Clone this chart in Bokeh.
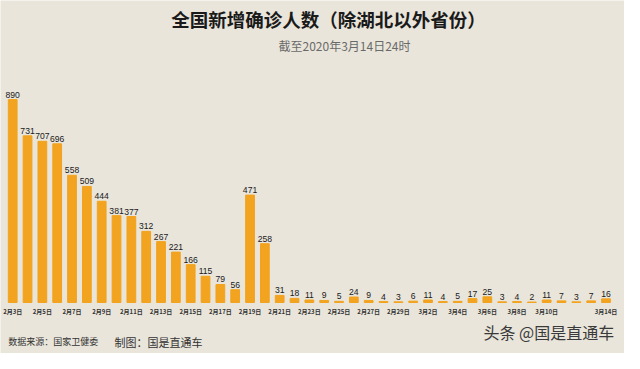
from bokeh.plotting import figure
from bokeh.models import ColumnDataSource, Label, Range1d
from bokeh.core.properties import value
from bokeh.embed import file_html
from bokeh.resources import INLINE

# ---- data ----
dates = ["2月3日", "2月4日", "2月5日", "2月6日", "2月7日", "2月8日", "2月9日", "2月10日",
         "2月11日", "2月12日", "2月13日", "2月14日", "2月15日", "2月16日", "2月17日", "2月18日",
         "2月19日", "2月20日", "2月21日", "2月22日", "2月23日", "2月24日", "2月25日", "2月26日",
         "2月27日", "2月28日", "2月29日", "3月1日", "3月2日", "3月3日", "3月4日", "3月5日",
         "3月6日", "3月7日", "3月8日", "3月9日", "3月10日", "3月11日", "3月12日", "3月13日",
         "3月14日"]
cases = [890, 731, 707, 696, 558, 509, 444, 381, 377, 312, 267, 221, 166, 115, 79, 56,
         471, 258, 31, 18, 11, 9, 5, 24, 9, 4, 3, 6, 11, 4, 5, 17,
         25, 3, 4, 2, 11, 7, 3, 7, 16]
tick_labels = ["2月3日", "2月5日", "2月7日", "2月9日", "2月11日", "2月13日", "2月15日",
               "2月17日", "2月19日", "2月21日", "2月23日", "2月25日", "2月27日", "2月29日",
               "3月2日", "3月4日", "3月6日", "3月8日", "3月10日", "3月14日"]

title_text = "全国新增确诊人数（除湖北以外省份）"
subtitle_text = "截至2020年3月14日24时"
source_text = "数据来源：国家卫健委"
maker_text = "制图：国是直通车"
brand_text = "头条 @国是直通车"

# ---- layout ----
W, H = 624, 353
BG = "#E9E5DA"
BAR = "#F2A31F"
CJK = "Noto Sans CJK SC"

xs = list(range(len(dates)))
src = ColumnDataSource(dict(x=xs, y=cases, lab=[str(v) for v in cases]))
tick_x = [dates.index(t) for t in tick_labels]
tsrc = ColumnDataSource(dict(x=tick_x, y=[0] * len(tick_x), lab=tick_labels))

first_c, last_c = 12.2, 605.5
px_x = (last_c - first_c) / (len(dates) - 1)
px_y = 0.228
base = 302  # baseline from top of canvas
p = figure(width=W, height=H, output_backend="svg", toolbar_location=None,
           x_range=Range1d(-first_c / px_x, (len(dates) - 1) + (W - last_c) / px_x),
           y_range=Range1d(-(H - base) / px_y, base / px_y),
           min_border=0, background_fill_color=BG, border_fill_color=BG)
p.axis.visible = False
p.grid.visible = False
p.outline_line_color = None

p.vbar(x="x", top="y", bottom=0, width=0.59, source=src, color=BAR)
p.text(x="x", y="y", text="lab", source=src, text_align="center",
       text_baseline="bottom", y_offset=-2, text_font_size="8.6px",
       text_font=value("Liberation Sans"), text_color="#1a1a1a")
p.text(x="x", y="y", text="lab", source=tsrc, text_align="center",
       text_baseline="middle", y_offset=9, text_font_size="6px",
       text_font=value(CJK), text_font_style="bold", text_color="#333333")

p.add_layout(Label(x=328, y=H - 18, x_units="screen", y_units="screen", text=title_text,
                   text_align="center", text_baseline="middle", text_font=CJK,
                   text_font_size="18.5px", text_font_style="bold", text_color="#1a1a1a"))
p.add_layout(Label(x=344, y=H - 45, x_units="screen", y_units="screen", text=subtitle_text,
                   text_align="center", text_baseline="middle", text_font=CJK,
                   text_font_size="12px", text_color="#6a6a6a"))
p.add_layout(Label(x=7.8, y=12, x_units="screen", y_units="screen", text=source_text,
                   text_align="left", text_baseline="middle", text_font=CJK,
                   text_font_size="9px", text_color="#333333"))
p.add_layout(Label(x=114, y=12, x_units="screen", y_units="screen", text=maker_text,
                   text_align="left", text_baseline="middle", text_font=CJK,
                   text_font_size="11px", text_color="#333333"))
p.add_layout(Label(x=483, y=H - 331, x_units="screen", y_units="screen", text=brand_text,
                   text_align="left", text_baseline="middle", text_font=CJK,
                   text_font_size="16px", text_color="#3a3a3a"))

open("out.html", "w").write(file_html(p, INLINE))
